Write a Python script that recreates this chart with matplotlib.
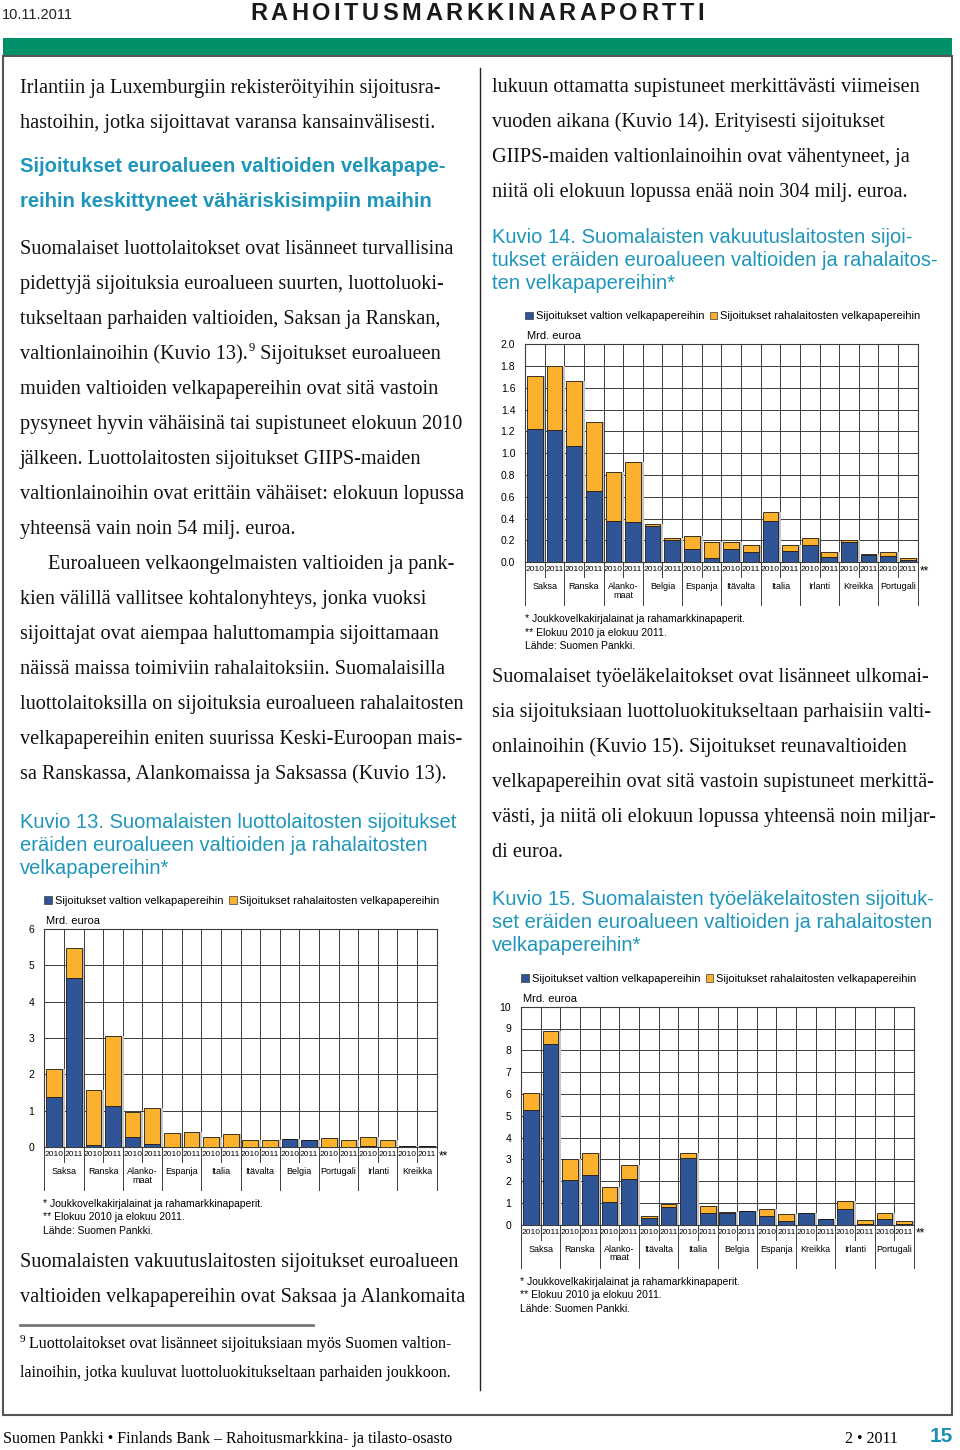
import matplotlib
matplotlib.use("Agg")
import matplotlib.pyplot as plt
import matplotlib.transforms as mtransforms
from matplotlib.patches import Patch, Rectangle

plt.rcParams["font.family"] = ["Liberation Sans", "DejaVu Sans"]

W, H = 960, 1450
SERIF = ["Liberation Serif", "DejaVu Serif"]
NAVY = "#2f5597"
ORANGE = "#fbb12e"
BLUE_TXT = "#1e96bb"
GREEN = "#00906a"
GRID = "#3c3c3c"

# ---- chart data (Mrd. euroa), order: country1 2010, country1 2011, ...
years = ["2010", "2011"]
legend_labels = ["Sijoitukset valtion velkapapereihin",
                 "Sijoitukset rahalaitosten velkapapereihin"]
chart_notes = ["* Joukkovelkakirjalainat ja rahamarkkinapaperit.",
               "** Elokuu 2010 ja elokuu 2011.",
               "Lähde: Suomen Pankki."]

k13_countries = ["Saksa", "Ranska", "Alanko-\nmaat", "Espanja", "Italia",
                 "Itävalta", "Belgia", "Portugali", "Irlanti", "Kreikka"]
k13_gov = [1.38, 4.65, 0.05, 1.13, 0.27, 0.07, 0.01, 0.00, 0.00, 0.00,
           0.00, 0.00, 0.21, 0.19, 0.00, 0.00, 0.02, 0.01, 0.03, 0.02]
k13_bank = [0.77, 0.82, 1.52, 1.92, 0.70, 1.00, 0.38, 0.41, 0.28, 0.36,
            0.20, 0.19, 0.01, 0.01, 0.26, 0.18, 0.25, 0.17, 0.00, 0.00]

k14_countries = ["Saksa", "Ranska", "Alanko-\nmaat", "Belgia", "Espanja",
                 "Itävalta", "Italia", "Irlanti", "Kreikka", "Portugali"]
k14_gov = [1.22, 1.21, 1.07, 0.65, 0.38, 0.37, 0.33, 0.20, 0.12, 0.04,
           0.12, 0.09, 0.38, 0.10, 0.16, 0.05, 0.19, 0.07, 0.06, 0.02]
k14_bank = [0.49, 0.59, 0.59, 0.64, 0.45, 0.55, 0.02, 0.02, 0.12, 0.15,
            0.07, 0.07, 0.08, 0.06, 0.06, 0.04, 0.01, 0.01, 0.03, 0.02]

k15_countries = ["Saksa", "Ranska", "Alanko-\nmaat", "Itävalta", "Italia",
                 "Belgia", "Espanja", "Kreikka", "Irlanti", "Portugali"]
k15_gov = [5.25, 8.30, 2.07, 2.30, 1.05, 2.10, 0.33, 0.82, 3.05, 0.52,
           0.55, 0.62, 0.40, 0.17, 0.53, 0.24, 0.70, 0.03, 0.25, 0.04]
k15_bank = [0.80, 0.60, 0.96, 1.00, 0.70, 0.62, 0.09, 0.11, 0.25, 0.35,
            0.02, 0.02, 0.32, 0.31, 0.02, 0.01, 0.37, 0.19, 0.27, 0.13]

# ---- page text
left_top = ["Irlantiin ja Luxemburgiin rekisteröityihin sijoitusra-",
            "hastoihin, jotka sijoittavat varansa kansainvälisesti."]
heading = ["Sijoitukset euroalueen valtioiden velkapape-",
           "reihin keskittyneet vähäriskisimpiin maihin"]
left_body = ["Suomalaiset luottolaitokset ovat lisänneet turvallisina",
             "pidettyjä sijoituksia euroalueen suurten, luottoluoki-",
             "tukseltaan parhaiden valtioiden, Saksan ja Ranskan,",
             None,
             "muiden valtioiden velkapapereihin ovat sitä vastoin",
             "pysyneet hyvin vähäisinä tai supistuneet elokuun 2010",
             "jälkeen. Luottolaitosten sijoitukset GIIPS-maiden",
             "valtionlainoihin ovat erittäin vähäiset: elokuun lopussa",
             "yhteensä vain noin 54 milj. euroa.",
             "Euroalueen velkaongelmaisten valtioiden ja pank-",
             "kien välillä vallitsee kohtalonyhteys, jonka vuoksi",
             "sijoittajat ovat aiempaa haluttomampia sijoittamaan",
             "näissä maissa toimiviin rahalaitoksiin. Suomalaisilla",
             "luottolaitoksilla on sijoituksia euroalueen rahalaitosten",
             "velkapapereihin eniten suurissa Keski-Euroopan mais-",
             "sa Ranskassa, Alankomaissa ja Saksassa (Kuvio 13)."]
sup_line = ("valtionlainoihin (Kuvio 13).", "9", " Sijoitukset euroalueen")
k13_title = ["Kuvio 13. Suomalaisten luottolaitosten sijoitukset",
             "eräiden euroalueen valtioiden ja rahalaitosten",
             "velkapapereihin*"]
left_after = ["Suomalaisten vakuutuslaitosten sijoitukset euroalueen",
              "valtioiden velkapapereihin ovat Saksaa ja Alankomaita"]
footnote = ["Luottolaitokset ovat lisänneet sijoituksiaan myös Suomen valtion-",
            "lainoihin, jotka kuuluvat luottoluokitukseltaan parhaiden joukkoon."]

right_top = ["lukuun ottamatta supistuneet merkittävästi viimeisen",
             "vuoden aikana (Kuvio 14). Erityisesti sijoitukset",
             "GIIPS-maiden valtionlainoihin ovat vähentyneet, ja",
             "niitä oli elokuun lopussa enää noin 304 milj. euroa."]
k14_title = ["Kuvio 14. Suomalaisten vakuutuslaitosten sijoi-",
             "tukset eräiden euroalueen valtioiden ja rahalaitos-",
             "ten velkapapereihin*"]
right_mid = ["Suomalaiset työeläkelaitokset ovat lisänneet ulkomai-",
             "sia sijoituksiaan luottoluokitukseltaan parhaisiin valti-",
             "onlainoihin (Kuvio 15). Sijoitukset reunavaltioiden",
             "velkapapereihin ovat sitä vastoin supistuneet merkittä-",
             "västi, ja niitä oli elokuun lopussa yhteensä noin miljar-",
             "di euroa."]
k15_title = ["Kuvio 15. Suomalaisten työeläkelaitosten sijoituk-",
             "set eräiden euroalueen valtioiden ja rahalaitosten",
             "velkapapereihin*"]

fig = plt.figure(figsize=(W / 100, H / 100), dpi=100)
page = fig.add_axes([0, 0, 1, 1])
page.set_xlim(0, W)
page.set_ylim(H, 0)
page.axis("off")
renderer = fig.canvas.get_renderer()

body = dict(family=SERIF, fontsize=14.6, color="#111111", va="baseline")
title_kw = dict(fontsize=14.5, color=BLUE_TXT, va="baseline")


def lines(x, y0, step, texts, **kw):
    for i, s in enumerate(texts):
        if s:
            page.text(x, y0 + i * step, s, **kw)


# header
page.text(2, 15, "10.11.2011", fontsize=10.5, va="center", color="#222222")
title = "RAHOITUSMARKKINARAPORTTI"
letters = [page.text(0, 13, c, fontsize=17, fontweight="bold", va="center",
                     color="#1a1a1a")
           for c in title]
widths = [t.get_window_extent(renderer).width for t in letters]
gap = (704 - 250 - sum(widths)) / (len(title) - 1)
xpos = 250
for t, w in zip(letters, widths):
    t.set_x(xpos)
    xpos += w + gap
page.add_patch(Rectangle((3, 38), 949, 17, color=GREEN, lw=0))
page.add_patch(Rectangle((3, 56), 949, 1359, fill=False, ec="#555555", lw=1.5))
page.plot([480, 480], [68, 1390], color="#222222", lw=1)

# left column
lines(20, 93, 35, left_top, **body)
lines(20, 172, 35, heading, fontsize=14.6, fontweight="bold", color=BLUE_TXT, va="baseline")
for i, s in enumerate(left_body):
    if s:
        page.text(48 if i == 9 else 20, 254 + i * 35, s, **body)
t = page.text(20, 359, sup_line[0], **body)
xr = t.get_window_extent(renderer).x1
page.text(xr + 1, 351, sup_line[1], family=SERIF, fontsize=9, va="baseline")
page.text(xr + 7, 359, sup_line[2], **body)
lines(20, 828, 23, k13_title, **title_kw)
lines(20, 1267, 35, left_after, **body)
page.plot([20, 313], [1325, 1325], color="#777777", lw=2)
page.text(20, 1342, "9", family=SERIF, fontsize=8, va="baseline")
page.text(29, 1348, footnote[0], family=SERIF, fontsize=11.5, va="baseline")
page.text(20, 1377, footnote[1], family=SERIF, fontsize=11.5, va="baseline")

# right column
lines(492, 92, 35, right_top, **body)
lines(492, 243, 23, k14_title, **title_kw)
lines(492, 682, 35, right_mid, **body)
lines(492, 905, 23, k15_title, **title_kw)

# footer
page.text(3, 1443, "Suomen Pankki \u2022 Finlands Bank \u2013 Rahoitusmarkkina- ja tilasto-osasto",
          family=SERIF, fontsize=11.5, va="baseline")
page.text(845, 1443, "2 \u2022 2011", family=SERIF, fontsize=11.5, va="baseline")
page.text(930, 1442, "15", fontsize=15, fontweight="bold", color="#1e8fb0", va="baseline")


def chart(rect, countries, gov, bank, ymax, ystep, fmt, note_x):
    x0, y0, x1, y1 = rect
    h = y1 - y0
    ax = fig.add_axes([x0 / W, 1 - y1 / H, (x1 - x0) / W, h / H])
    n = len(gov)
    xs = list(range(n))
    total = [g + b for g, b in zip(gov, bank)]
    ax.bar([x + 0.14 for x in xs], total, width=0.8, color="#c4c4c4", zorder=2)
    ax.bar(xs, gov, width=0.8, color=NAVY, edgecolor="#1a1a1a", lw=0.6, zorder=3)
    ax.bar(xs, bank, bottom=gov, width=0.8, color=ORANGE, edgecolor="#1a1a1a",
           lw=0.6, zorder=3)
    ax.set_xlim(-0.5, n - 0.5)
    ax.set_ylim(0, ymax)
    yt = [i * ystep for i in range(int(round(ymax / ystep)) + 1)]
    ax.set_yticks(yt)
    ax.set_yticklabels([fmt.format(v) for v in yt], fontsize=7.5)
    ax.set_xticks(xs)
    ax.set_xticklabels(years * (n // 2), fontsize=6.1)
    ax.set_xticks([x + 0.5 for x in xs[:-1]], minor=True)
    ax.tick_params(which="both", length=0)
    ax.tick_params(axis="y", pad=7)
    ax.tick_params(axis="x", pad=3)
    ax.grid(axis="y", which="major", color=GRID, lw=0.7)
    ax.grid(axis="x", which="minor", color=GRID, lw=0.7)
    ax.set_axisbelow(True)
    for sp in ax.spines.values():
        sp.set_color(GRID)
        sp.set_linewidth(0.8)
    trans = mtransforms.blended_transform_factory(ax.transData, ax.transAxes)
    for b in range(n + 1):
        length = 43 if b % 2 == 0 else 15
        ax.plot([b - 0.5, b - 0.5], [0, -length / h], transform=trans,
                color=GRID, lw=0.7, clip_on=False)
    for k, c in enumerate(countries):
        ax.text(2 * k + 0.5, -20 / h, c, transform=trans, ha="center", va="top",
                fontsize=6.5, linespacing=0.95)
    ax.text(n - 0.4, -9 / h, "**", transform=trans, ha="left", va="center",
            fontsize=8.5)
    ax.text(0.005, 1 + 8 / h, "Mrd. euroa", transform=ax.transAxes,
            va="center", fontsize=8)
    handles = [Patch(facecolor=NAVY, edgecolor=GRID, lw=0.5),
               Patch(facecolor=ORANGE, edgecolor=GRID, lw=0.5)]
    ax.legend(handles, legend_labels, loc="center left",
              bbox_to_anchor=(0.0, 1 + 28 / h), ncol=2, frameon=False,
              fontsize=8, handlelength=0.7, handleheight=0.7,
              handletextpad=0.25, columnspacing=0.5, borderaxespad=0,
              borderpad=0)
    for i, s in enumerate(chart_notes):
        page.text(note_x, y1 + 57 + i * 13.5, s, fontsize=7.5, va="center")
    return ax


chart((44.3, 929, 436.7, 1147), k13_countries, k13_gov, k13_bank, 6, 1, "{:.0f}", 43)
chart((525, 344.3, 917.7, 562.3), k14_countries, k14_gov, k14_bank, 2.0, 0.2, "{:.1f}", 525)
chart((521, 1006.7, 914, 1224.7), k15_countries, k15_gov, k15_bank, 10, 1, "{:.0f}", 520)

fig.savefig("out.png", dpi=100)
